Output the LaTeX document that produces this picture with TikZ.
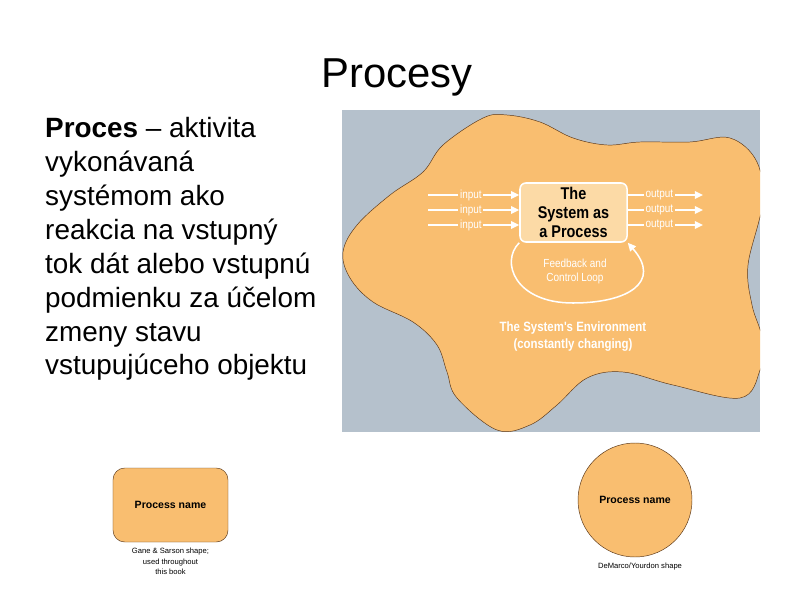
\documentclass[tikz,border=0pt]{standalone}
\usepackage{fontspec}
\setmainfont{Liberation Sans}
\newfontfamily\narrowfont[FakeStretch=0.85]{Liberation Sans}
\usetikzlibrary{arrows.meta,positioning}

\definecolor{sfondo}{RGB}{181,193,204}
\definecolor{arancio}{RGB}{249,190,112}
\definecolor{chiaro}{RGB}{252,218,166}
\definecolor{bordo}{RGB}{90,55,25}

\tikzset{
  flow/.style={white, line width=1.3pt, -{Triangle[length=7pt,width=6.5pt]}},
  lbl/.style={fill=arancio, text=white, inner sep=1.5pt, font=\narrowfont\fontsize{10}{11}\selectfont},
  procbox/.style={draw=white, line width=1.3pt, fill=chiaro, rounded corners=5pt,
    minimum width=3.21cm, minimum height=1.77cm, align=center, inner sep=1pt,
    font=\narrowfont\bfseries\fontsize{14.5}{15.9}\selectfont},
  shapebox/.style={draw=bordo, thin, fill=arancio, align=center,
    font=\bfseries\fontsize{9}{10}\selectfont},
  caption/.style={align=center, inner sep=0pt, font=\fontsize{6.5}{9}\selectfont}
}

\begin{document}
\begin{tikzpicture}[x=0.03cm, y=-0.03cm]
  \useasboundingbox (0,0) rectangle (794,595);

  % titolo e testo
  \node[anchor=base, inner sep=0pt, font=\fontsize{35.7}{40}\selectfont] (title) at (397,88) {Procesy};
  \node[anchor=north west, inner sep=0pt, align=left,
        font=\fontsize{23.8}{28.9}\selectfont] (body) at (45,117.5)
    {\textbf{Proces} -- aktivita\\vykonávaná\\systémom ako\\reakcia na vstupný\\
     tok dát alebo vstupnú\\podmienku za účelom\\zmeny stavu\\vstupujúceho objektu};

  % ambiente del sistema
  \fill[sfondo] (342,110) rectangle (760,432);
  \begin{scope}
    \clip (342,110) rectangle (760,432);
    \draw[bordo, thin, fill=arancio] plot[smooth cycle, tension=0.6] coordinates {
      (483,118) (507,115) (540,122) (573,138) (607,145) (640,142) (690,142)
      (730,138) (757,162) (762,205) (748,265) (752,305) (762,338) (760,370)
      (740,398) (673,385) (623,372) (587,378) (557,405) (530,425) (497,430)
      (457,398) (447,372) (437,345) (413,322) (373,302) (350,278) (343,252)
      (357,225) (390,195) (423,172) (443,145)};
  \end{scope}

  \node[procbox] (proc) at (573.5,212.5) {The\\System as\\a Process};

  % ingressi e uscite
  \foreach \i/\y in {1/195,2/210,3/225} {
    \coordinate (in\i) at (428,\y);
    \coordinate (out\i) at (703,\y);
    \draw[flow] (in\i) -- (proc.west |- in\i) node[lbl, pos=0.47] {input};
    \draw[flow] (proc.east |- out\i) -- (out\i) node[lbl, pos=0.42] {output};
  }

  % anello di retroazione
  \coordinate (fbbot) at (573,303);
  \draw[flow] (proc.south west) .. controls (500,262) and (515,303) .. (fbbot)
    .. controls (628,303) and (662,282) .. (proc.south east);
  \node[text=white, align=center, font=\narrowfont\fontsize{10}{12}\selectfont] (fb) at (575,271)
    {Feedback and\\Control Loop};

  \node[text=white, align=center, font=\narrowfont\bfseries\fontsize{11.5}{14.5}\selectfont] (env) at (573,337)
    {The System's Environment\\(constantly changing)};

  % simboli di processo
  \node[shapebox, rounded corners=10pt, minimum width=3.45cm, minimum height=2.22cm] (gs) at (170.5,505) {Process name};
  \node[caption, below=0.17cm of gs] (gscap) {Gane \& Sarson shape;\\used throughout\\this book};

  \node[shapebox, circle, minimum size=3.42cm] (dy) at (635,500) {Process name};
  \node[caption, anchor=center] (dycap) at (640,567) {DeMarco/Yourdon shape};
\end{tikzpicture}
\end{document}
